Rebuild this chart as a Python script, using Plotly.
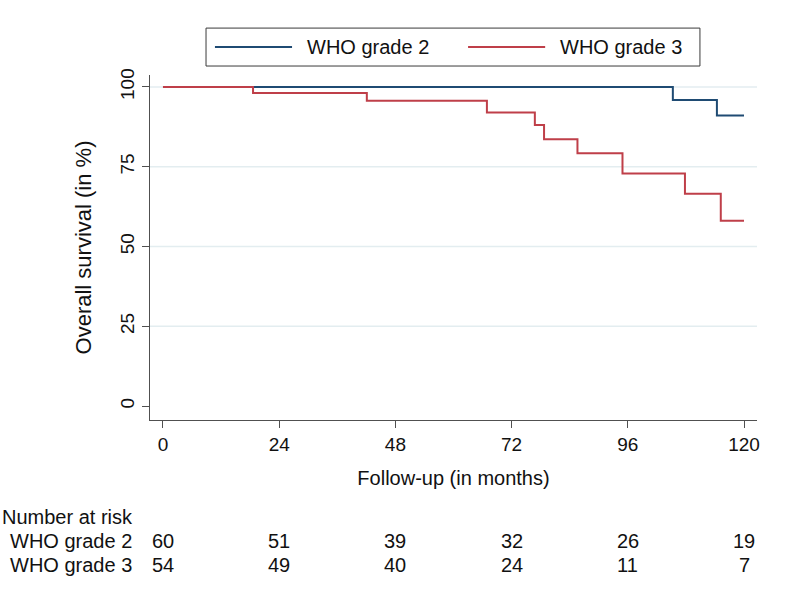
import plotly.graph_objects as go

# ---- data ----
follow_up_end = 120
grade2_times = [105.3, 114.4]
grade2_surv = [95.9, 91.1]
grade3_times = [18.6, 42.1, 66.9, 76.8, 78.7, 85.6, 94.9, 107.8, 115.2]
grade3_surv = [98.1, 95.7, 92.0, 88.1, 83.6, 79.2, 72.9, 66.5, 58.1]

risk_times = [0, 24, 48, 72, 96, 120]
risk_grade2 = [60, 51, 39, 32, 26, 19]
risk_grade3 = [54, 49, 40, 24, 11, 7]

x_ticks = [0, 24, 48, 72, 96, 120]
y_ticks = [0, 25, 50, 75, 100]
group_names = ["WHO grade 2", "WHO grade 3"]

BLUE = "#1f4b73"
RED = "#bf3f49"
FONT = "Liberation Sans, Arial, sans-serif"
AXIS_C = "#505050"


def step_xy(times, surv, end):
    xs = [0] + list(times) + [end]
    ys = [100] + list(surv) + [surv[-1]]
    return xs, ys


fig = go.Figure()
bx, by = step_xy(grade2_times, grade2_surv, follow_up_end)
rx, ry = step_xy(grade3_times, grade3_surv, follow_up_end)
fig.add_trace(go.Scatter(x=bx, y=by, mode="lines", line=dict(color=BLUE, width=2, shape="hv"),
                         name=group_names[0], showlegend=False))
fig.add_trace(go.Scatter(x=rx, y=ry, mode="lines", line=dict(color=RED, width=2, shape="hv"),
                         name=group_names[1], showlegend=False))

shapes = []
# gridlines
for v in y_ticks[1:]:
    shapes.append(dict(type="line", xref="paper", yref="y", x0=0, x1=1, y0=v, y1=v,
                       line=dict(color="#e3edf0", width=1.3), layer="below"))
# legend box
shapes.append(dict(type="rect", xref="paper", yref="paper", x0=0.0923, x1=0.906, y0=1.026, y1=1.136,
                   line=dict(color="#3a3a3a", width=1), fillcolor="rgba(0,0,0,0)"))
shapes.append(dict(type="line", xref="paper", yref="paper", x0=0.107, x1=0.234, y0=1.081, y1=1.081,
                   line=dict(color=BLUE, width=2)))
shapes.append(dict(type="line", xref="paper", yref="paper", x0=0.524, x1=0.651, y0=1.081, y1=1.081,
                   line=dict(color=RED, width=2)))

ann = []
ann.append(dict(text=group_names[0], xref="paper", yref="paper", x=0.255, y=1.081, xanchor="left",
                yanchor="middle", showarrow=False, font=dict(size=20, color="#111", family=FONT)))
ann.append(dict(text=group_names[1], xref="paper", yref="paper", x=0.672, y=1.081, xanchor="left",
                yanchor="middle", showarrow=False, font=dict(size=20, color="#111", family=FONT)))

# number at risk table
ann.append(dict(text="Number at risk", xref="paper", yref="paper", x=-0.247, y=-0.281, xanchor="left",
                yanchor="middle", showarrow=False, font=dict(size=20, color="#111", family=FONT)))
row_y = [-0.351, -0.420]
for name, yy, vals in zip(group_names, row_y, [risk_grade2, risk_grade3]):
    ann.append(dict(text=name, xref="paper", yref="paper", x=-0.234, y=yy, xanchor="left",
                    yanchor="middle", showarrow=False, font=dict(size=20, color="#111", family=FONT)))
    for t, v in zip(risk_times, vals):
        ann.append(dict(text=str(v), xref="x", yref="paper", x=t, y=yy, xanchor="center",
                        yanchor="middle", showarrow=False, font=dict(size=20, color="#111", family=FONT)))

fig.update_layout(
    width=787, height=591,
    margin=dict(l=150, r=30, t=75, b=171),
    paper_bgcolor="white", plot_bgcolor="white",
    shapes=shapes, annotations=ann,
    font=dict(family=FONT, color="#111"),
)
fig.update_xaxes(
    range=[-2.68, 122.68], tickvals=x_ticks, ticktext=[str(t) for t in x_ticks],
    showgrid=False, zeroline=False, showline=True, linecolor=AXIS_C, linewidth=1,
    ticks="outside", ticklen=7, tickcolor=AXIS_C, tickwidth=1,
    tickfont=dict(size=19, family=FONT, color="#111"),
    title=dict(text="Follow-up (in months)", font=dict(size=20, family=FONT, color="#111"), standoff=17),
)
fig.update_yaxes(
    range=[-4.39, 103.76], tickvals=y_ticks, ticktext=[str(t) for t in y_ticks], tickangle=-90,
    showgrid=False, zeroline=False, showline=True, linecolor=AXIS_C, linewidth=1,
    ticks="outside", ticklen=7, tickcolor=AXIS_C, tickwidth=1,
    tickfont=dict(size=19, family=FONT, color="#111"),
    title=dict(text="Overall survival (in %)", font=dict(size=22, family=FONT, color="#111"), standoff=19),
)

fig.write_html("out.html", config={"displayModeBar": False},
               post_script="document.body.style.margin='0';")
